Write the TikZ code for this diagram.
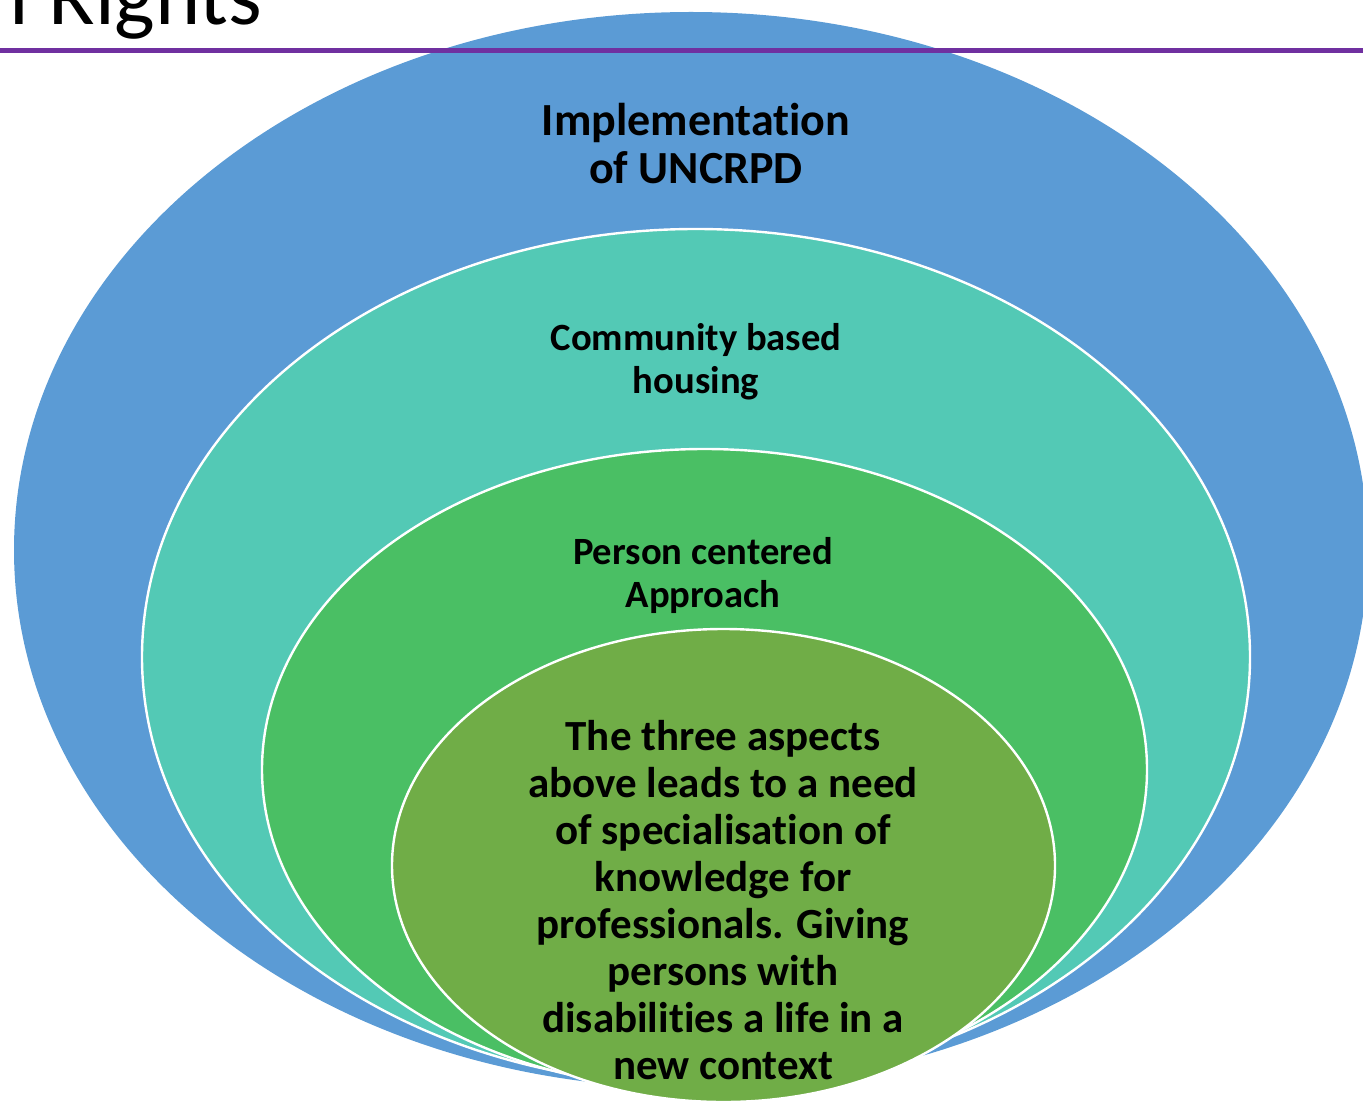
\documentclass[tikz,border=0pt]{standalone}
\usepackage{fontspec}
\setmainfont{Carlito}[Ligatures=NoCommon]
\usetikzlibrary{shapes.geometric}
\definecolor{ringblue}{HTML}{5B9BD5}
\definecolor{ringteal}{HTML}{53C9B5}
\definecolor{ringgreen}{HTML}{4ABF64}
\definecolor{ringolive}{HTML}{70AD47}
\definecolor{rulepurple}{HTML}{7030A0}
\tikzset{
  ring/.style={ellipse, draw=white, line width=1.2pt, inner sep=0pt},
  ringtext/.style={align=center, font=\bfseries, text=black, inner sep=0pt},
}
\begin{document}
\begin{tikzpicture}[x=0.5pt,y=-0.5pt]
\useasboundingbox (0,0) rectangle (1363,1101);
\clip (0,0) rectangle (1363,1101);
% rings
\node[ring, draw=none, fill=ringblue, minimum width=677pt, minimum height=538pt] (blue) at (691,550) {};
\node[ring, fill=ringteal, minimum width=554pt, minimum height=428pt] (teal) at (696,657) {};
\node[ring, fill=ringgreen, minimum width=442.5pt, minimum height=320.5pt] (green) at (704.5,769.5) {};
\node[ring, fill=ringolive, minimum width=331.5pt, minimum height=236.5pt] (olive) at (723.5,865.5) {};
% title and rule
\node[anchor=base west, inner sep=0pt, font=\fontsize{43}{50}\selectfont] (title) at (9,25) {l Rights};
\coordinate (ruleL) at (0,50.5);
\coordinate (ruleR) at (1363,50.5);
\draw[rulepurple, line width=2.5pt] (ruleL) -- (ruleR);
% texts
\node[ringtext, font=\bfseries\fontsize{23}{24}\selectfont] (t1) at (696,144) {Implementation\\of UNCRPD};
\node[ringtext, font=\bfseries\fontsize{19.3}{21.5}\selectfont] (t2) at (696,362) {Community based\\housing};
\node[ringtext, font=\bfseries\fontsize{19.3}{21.5}\selectfont] (t3) at (703,575) {Person centered\\Approach};
\node[ringtext, font=\bfseries\fontsize{21.5}{23.5}\selectfont] (t4) at (723,900) {The three aspects\\above leads to a need\\of specialisation of\\knowledge for\\professionals. Giving\\persons with\\disabilities a life in a\\new context};
\end{tikzpicture}
\end{document}
